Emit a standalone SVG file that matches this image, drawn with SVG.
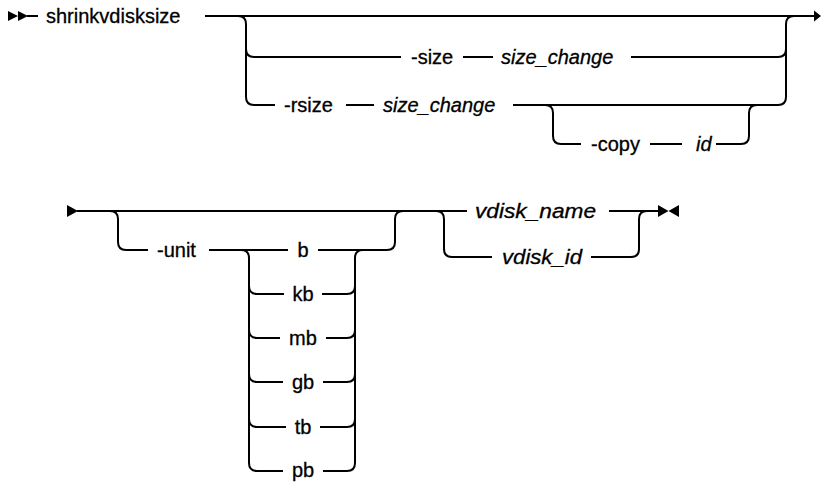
<svg xmlns="http://www.w3.org/2000/svg" width="821" height="483" viewBox="0 0 821 483">
<style>
.ln{fill:none;stroke:#000;stroke-width:2}
.mk{fill:#000;stroke:none}
text{font-family:"Liberation Sans",Arial,sans-serif;font-size:20px;fill:#000;stroke:#000;stroke-width:0.3}
.v{font-style:italic}
.m{text-anchor:middle}
</style>
<rect width="821" height="483" fill="#fff"/>
<g id="connectors">
  <!-- row 1 -->
  <path class="mk" d="M8,11 L18,16 L8,21 Z M18,11 L28,16 L18,21 Z"/>
  <path class="ln" d="M27,16 H38 M205,16 H815"/>
  <path class="mk" d="M814,10.5 L821,16 L814,21.5 Z"/>
  <path class="ln" d="M238,16 Q246,16 246,24 V97 Q246,105 254,105 M246,49 Q246,57 254,57"/>
  <path class="ln" d="M778,105 Q786,105 786,97 V24 Q786,16 794,16 M778,57 Q786,57 786,49"/>
  <path class="ln" d="M254,57 H401 M463,57 H493 M631,57 H778"/>
  <path class="ln" d="M254,105 H275 M346,105 H374 M513,105 H778"/>
  <path class="ln" d="M545,105 Q553,105 553,113 V136 Q553,144 561,144 H581 M650,144 H682 M716,144 H741 Q749,144 749,136 V113 Q749,105 757,105"/>
  <!-- row 2 -->
  <path class="mk" d="M67,205 L78,211 L67,217 Z"/>
  <path class="ln" d="M77,211 H467"/>
  <path class="ln" d="M110,211 Q118,211 118,219 V242 Q118,250 126,250 H148"/>
  <path class="ln" d="M209,250 H288 M318,250 H387 Q395,250 395,242 V219 Q395,211 403,211"/>
  <path class="ln" d="M241,250 Q249,250 249,258 V463 Q249,471 257,471"/>
  <path class="ln" d="M347,471 Q355,471 355,463 V258 Q355,250 363,250"/>
  <path class="ln" d="M249,286 Q249,294 257,294 H284 M322,294 H347 Q355,294 355,286"/>
  <path class="ln" d="M249,330 Q249,338 257,338 H280 M326,338 H347 Q355,338 355,330"/>
  <path class="ln" d="M249,374 Q249,382 257,382 H283 M323,382 H347 Q355,382 355,374"/>
  <path class="ln" d="M249,419 Q249,427 257,427 H286 M320,427 H347 Q355,427 355,419"/>
  <path class="ln" d="M257,471 H283 M323,471 H347"/>
  <path class="ln" d="M436,211 Q444,211 444,219 V249 Q444,257 452,257 H492 M591,257 H631 Q639,257 639,249 V219 Q639,211 647,211"/>
  <path class="ln" d="M609,211 H658"/>
  <path class="mk" d="M658,205 L668.5,211 L658,217 Z M679,205 L668.5,211 L679,217 Z"/>
</g>
<g id="cmd"><text x="46" y="23">shrinkvdisksize</text></g>
<g id="opt-size"><text x="411" y="64">-size</text></g>
<g id="size-change-1"><text class="v" x="501" y="64">size_change</text></g>
<g id="opt-rsize"><text x="284" y="112">-rsize</text></g>
<g id="size-change-2"><text class="v" x="383" y="112">size_change</text></g>
<g id="opt-copy"><text x="591" y="151">-copy</text></g>
<g id="copy-id"><text class="v" x="696" y="151">id</text></g>
<g id="opt-unit"><text x="157" y="257">-unit</text></g>
<g id="unit-b"><text class="m" x="303" y="257">b</text></g>
<g id="unit-kb"><text class="m" x="303" y="301">kb</text></g>
<g id="unit-mb"><text class="m" x="303" y="345">mb</text></g>
<g id="unit-gb"><text class="m" x="303" y="389">gb</text></g>
<g id="unit-tb"><text class="m" x="303" y="434">tb</text></g>
<g id="unit-pb"><text class="m" x="303" y="477">pb</text></g>
<g id="vdisk-name"><text class="v" x="475" y="218" textLength="121" lengthAdjust="spacingAndGlyphs">vdisk_name</text></g>
<g id="vdisk-id"><text class="v" x="502" y="264" textLength="80" lengthAdjust="spacingAndGlyphs">vdisk_id</text></g>
</svg>
